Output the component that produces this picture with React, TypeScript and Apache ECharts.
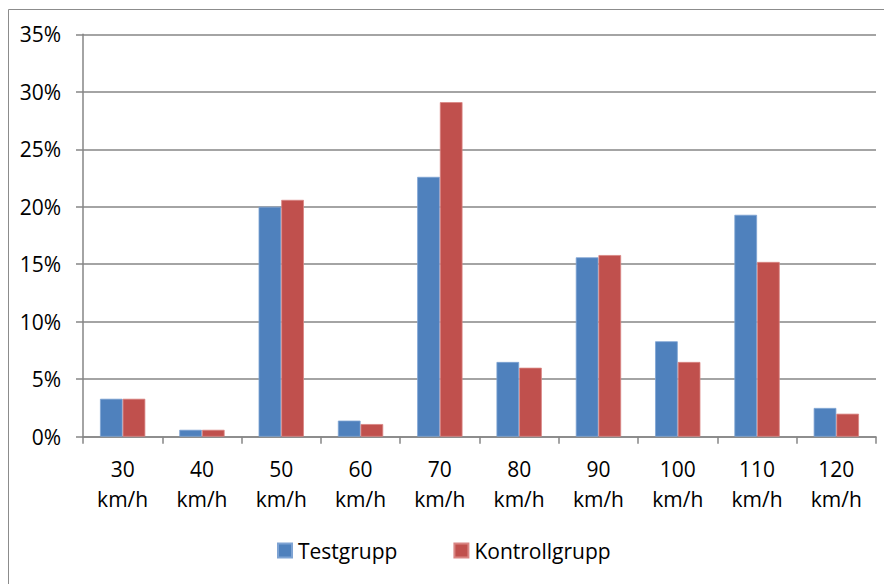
import React, { useEffect, useRef } from "react";
import * as echarts from "echarts";

const categories = ["30\nkm/h", "40\nkm/h", "50\nkm/h", "60\nkm/h", "70\nkm/h", "80\nkm/h", "90\nkm/h", "100\nkm/h", "110\nkm/h", "120\nkm/h"];
const testgrupp = [3.3, 0.6, 20.0, 1.4, 22.6, 6.5, 15.6, 8.3, 19.3, 2.5];
const kontrollgrupp = [3.3, 0.6, 20.6, 1.1, 29.1, 6.0, 15.8, 6.5, 15.2, 2.0];
const seriesNames = ["Testgrupp", "Kontrollgrupp"];
const yTicks = { min: 0, max: 35, interval: 5 };

const FONT = "'Open Sans', 'Noto Sans', sans-serif";
const AXIS_COLOR = "#868686";

export default function App() {
  const ref = useRef<HTMLDivElement>(null);
  useEffect(() => {
    if (!ref.current) return;
    const chart = echarts.init(ref.current, undefined, { renderer: "svg" });
    chart.setOption({
      animation: false,
      backgroundColor: "#ffffff",
      textStyle: { fontFamily: FONT },
      graphic: [
        {
          type: "rect",
          shape: { x: 8.5, y: 9.5, width: 900, height: 600 },
          style: { fill: "none", stroke: "#8c8c8c", lineWidth: 1 },
          silent: true,
          z: -1,
        },
      ],
      grid: { left: 83, right: 8, top: 34.3, bottom: 147.3, containLabel: false },
      legend: {
        left: 277,
        top: 540,
        padding: 0,
        icon: "rect",
        itemWidth: 14,
        itemHeight: 14,
        itemGap: 56,
        textStyle: { fontFamily: FONT, fontSize: 21, color: "#000", lineHeight: 21, padding: [0, 0, 0, 1] },
        data: seriesNames,
      },
      xAxis: {
        type: "category",
        data: categories,
        axisLine: { show: true, lineStyle: { color: AXIS_COLOR, width: 1.5 } },
        axisTick: { show: true, length: 7, lineStyle: { color: AXIS_COLOR, width: 1.5 } },
        axisLabel: {
          fontFamily: FONT,
          fontSize: 21,
          color: "#000",
          lineHeight: 30,
          margin: 17,
          interval: 0,
        },
      },
      yAxis: {
        type: "value",
        min: yTicks.min,
        max: yTicks.max,
        interval: yTicks.interval,
        axisLine: { show: true, lineStyle: { color: AXIS_COLOR, width: 1.5 } },
        axisTick: { show: true, length: 7, lineStyle: { color: AXIS_COLOR, width: 1.5 } },
        splitLine: { show: true, lineStyle: { color: AXIS_COLOR, width: 1.5 } },
        axisLabel: {
          fontFamily: FONT,
          fontSize: 21,
          color: "#000",
          margin: 22,
          formatter: (v: number) => `${v}%`,
        },
      },
      series: [
        {
          name: seriesNames[0],
          type: "bar",
          data: testgrupp,
          barGap: "0%",
          barCategoryGap: "42.86%",
          itemStyle: { color: "#4F81BD", borderColor: "#7ea3d3", borderWidth: 0.8 },
        },
        {
          name: seriesNames[1],
          type: "bar",
          data: kontrollgrupp,
          barGap: "0%",
          barCategoryGap: "42.86%",
          itemStyle: { color: "#C0504D", borderColor: "#d98583", borderWidth: 0.8 },
        },
      ],
    });
    return () => chart.dispose();
  }, []);
  return (
    <div
      ref={ref}
      style={{ position: "fixed", left: 0, top: 0, width: 884, height: 584 }}
    />
  );
}
